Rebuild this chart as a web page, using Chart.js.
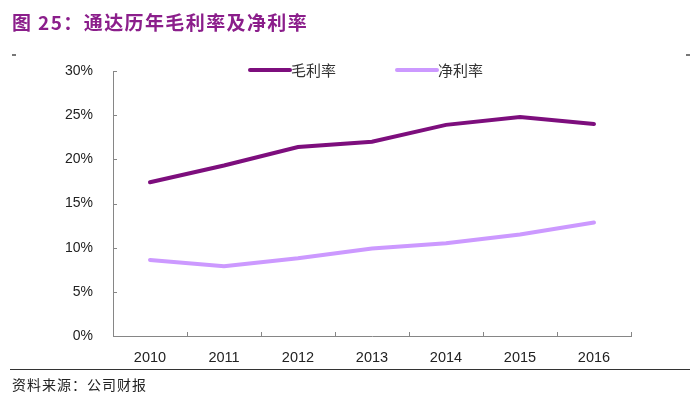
<!DOCTYPE html>
<html><head><meta charset="utf-8">
<script src="https://cdn.jsdelivr.net/npm/chart.js@4/dist/chart.umd.min.js"></script>
<style>
html,body{margin:0;padding:0;background:#fff;}
#wrap{position:relative;width:700px;height:399px;overflow:hidden;}
#c{position:absolute;left:0;top:0;}
.title{position:absolute;left:12px;top:8px;font:bold 19px "Noto Sans CJK SC","Liberation Sans",sans-serif;color:#8B1E8B;letter-spacing:1.4px;white-space:nowrap;}
.dash{position:absolute;top:54px;width:4px;height:2px;background:#777;}
.rule{position:absolute;left:10px;top:369px;width:680px;height:1px;background:#333;}
.src{position:absolute;left:12px;top:374px;font:14px "Noto Sans CJK SC",sans-serif;color:#222;letter-spacing:1px;}
</style></head>
<body><div id="wrap">
<canvas id="c" width="700" height="399"></canvas>
<div class="title">图 25：通达历年毛利率及净利率</div>
<div class="dash" style="left:12px"></div>
<div class="dash" style="left:686px"></div>
<div class="rule"></div>
<div class="src">资料来源：公司财报</div>
</div>
<script>
const categories = ["2010","2011","2012","2013","2014","2015","2016"];
const grossMargin = [17.4, 19.3, 21.4, 22.0, 23.9, 24.8, 24.0];
const netMargin = [8.6, 7.9, 8.8, 9.9, 10.5, 11.5, 12.85];
const seriesNames = ["毛利率","净利率"];
const yTicks = [0,5,10,15,20,25,30];

const innerTicks = {
  id:'innerTicks',
  afterDraw(chart){
    const ctx = chart.ctx, a = chart.chartArea, ys = chart.scales.y;
    ctx.save();
    ctx.strokeStyle = '#868686'; ctx.lineWidth = 1;
    ctx.beginPath();
    yTicks.forEach(v=>{ const y = Math.round(ys.getPixelForValue(v))+0.5; ctx.moveTo(a.left, y); ctx.lineTo(a.left+4, y); });
    const n = categories.length, w = (a.right-a.left)/n;
    for(let i=1;i<=n;i++){ const x = Math.round(a.left+i*w)+0.5; ctx.moveTo(x, a.bottom); ctx.lineTo(x, a.bottom-4); }
    ctx.stroke();
    // legend
    const items = [{x:250},{x:397}];
    ctx.font = '15px "Noto Sans CJK SC", sans-serif';
    ctx.textBaseline = 'middle';
    chart.data.datasets.forEach((ds,i)=>{
      const x0 = items[i].x, y0 = 70;
      ctx.strokeStyle = ds.borderColor; ctx.lineWidth = 4; ctx.lineCap='round';
      ctx.beginPath(); ctx.moveTo(x0, y0); ctx.lineTo(x0+40, y0); ctx.stroke();
      ctx.fillStyle = '#333'; ctx.fillText(ds.label, x0+41, y0);
    });
    ctx.restore();
  }
};

new Chart(document.getElementById('c'), {
  type:'line',
  data:{labels:categories, datasets:[
    {label:seriesNames[0], data:grossMargin, borderColor:'#7D0E7D', borderWidth:4, pointRadius:0, tension:0, borderCapStyle:'round'},
    {label:seriesNames[1], data:netMargin, borderColor:'#CC99FF', borderWidth:4, pointRadius:0, tension:0, borderCapStyle:'round'}
  ]},
  options:{
    responsive:false, animation:false,
    layout:{padding:{top:71,right:69,bottom:33,left:0}},
    plugins:{legend:{display:false}, tooltip:{enabled:false}},
    scales:{
      x:{offset:true, grid:{display:false, offset:true}, border:{display:true,color:'#868686'},
        ticks:{color:'#222', font:{family:'"Liberation Sans", Arial, sans-serif', size:14.5}, padding:5},
        afterFit(s){ s.height = 30; }},
      y:{min:0,max:30, grid:{display:false}, border:{display:true,color:'#868686'},
        afterBuildTicks(s){ s.ticks = yTicks.map(v=>({value:v})); },
        ticks:{color:'#222', font:{family:'"Liberation Sans", Arial, sans-serif', size:14}, padding:12, callback:v=>v+'%'},
        afterFit(s){ s.width = 113; }}
    }
  },
  plugins:[innerTicks]
});
</script>
</body></html>
